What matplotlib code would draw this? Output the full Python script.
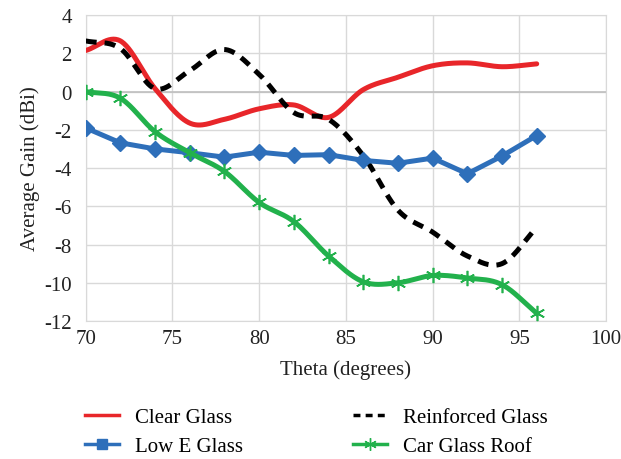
import numpy as np
import matplotlib.pyplot as plt
from matplotlib.lines import Line2D

plt.rcParams['font.family'] = ['Liberation Serif', 'DejaVu Serif']
plt.rcParams['axes.unicode_minus'] = False

theta = [70, 72, 74, 76, 78, 80, 82, 84, 86, 88, 90, 92, 94, 96]

clear_glass = [2.15, 2.65, 0.15, -1.65, -1.45, -0.9, -0.7, -1.35, 0.1, 0.75, 1.35, 1.5, 1.3, 1.45]
reinforced_glass = [2.65, 2.25, 0.15, 1.1, 2.2, 0.9, -1.1, -1.45, -3.35, -6.2, -7.35, -8.6, -9.0, -7.1]
low_e_glass = [-1.9, -2.68, -3.0, -3.2, -3.43, -3.17, -3.34, -3.3, -3.6, -3.75, -3.48, -4.3, -3.37, -2.3]
car_glass_roof = [0.0, -0.35, -2.1, -3.2, -4.18, -5.8, -6.8, -8.6, -9.95, -10.0, -9.62, -9.75, -10.1, -11.6]


def smooth_xy(x, y, n=30):
    # catmull-rom style curve through the points, like excel's smoothed line
    x = np.asarray(x, float)
    y = np.asarray(y, float)
    px = np.concatenate([[2 * x[0] - x[1]], x, [2 * x[-1] - x[-2]]])
    py = np.concatenate([[2 * y[0] - y[1]], y, [2 * y[-1] - y[-2]]])
    xs, ys = [], []
    t = np.linspace(0, 1, n, endpoint=False)
    for i in range(1, len(px) - 2):
        p0, p1, p2, p3 = [np.array([px[j], py[j]]) for j in range(i - 1, i + 3)]
        c1 = p1 + (p2 - p0) / 6
        c2 = p2 - (p3 - p1) / 6
        b = ((1 - t) ** 3)[:, None] * p1 + (3 * (1 - t) ** 2 * t)[:, None] * c1 \
            + (3 * (1 - t) * t ** 2)[:, None] * c2 + (t ** 3)[:, None] * p2
        xs.append(b[:, 0])
        ys.append(b[:, 1])
    xs.append([x[-1]])
    ys.append([y[-1]])
    return np.concatenate(xs), np.concatenate(ys)


fig = plt.figure(figsize=(6.21, 4.60), dpi=100)
ax = fig.add_axes([0.138, 0.30, 0.838, 0.665])

red = "#e8262a"
blue = "#2e6fba"
green = "#22b14c"

sx, sy = smooth_xy(theta, clear_glass)
ax.plot(sx, sy, color=red, lw=3.6, solid_capstyle="round", zorder=3)

sx, sy = smooth_xy(theta, reinforced_glass)
ax.plot(sx, sy, color="black", lw=3.6, dashes=(2.2, 1.6), zorder=4)

ax.plot(theta, low_e_glass, color=blue, lw=3.6, marker="D", markersize=8.5, zorder=5)

sx, sy = smooth_xy(theta, car_glass_roof)
ax.plot(sx, sy, color=green, lw=3.6, zorder=6)
ax.plot(theta, car_glass_roof, ls="none", marker=(6, 2, 0), markersize=11,
        markeredgewidth=1.2, color=green, zorder=6)

ax.set_xlim(70, 100)
ax.set_ylim(-12, 4)
ax.set_xticks(np.arange(70, 101, 5))
ax.set_yticks(np.arange(-12, 5, 2))
ax.grid(True, color="#d9d9d9", lw=1)
ax.axhline(0, color="#bfbfbf", lw=1.2, zorder=1)
ax.set_axisbelow(True)
for s in ax.spines.values():
    s.set_color("#d9d9d9")
ax.tick_params(length=0, labelsize=15, colors="#222222")
ax.tick_params(axis="y", pad=10)
ax.tick_params(axis="x", pad=6)

ax.set_xlabel("Theta (degrees)", fontsize=15, color="#222222", labelpad=8)
ax.set_ylabel("Average Gain (dBi)", fontsize=15, color="#222222", labelpad=3)

handles = [
    Line2D([], [], color=red, lw=2.5),
    Line2D([], [], color=blue, lw=2.5, marker="s", markersize=7),
    Line2D([], [], color="black", lw=2.5, dashes=(2, 1.5)),
    Line2D([], [], color=green, lw=2.5, marker=(6, 2, 0), markersize=9, markeredgewidth=1),
]
labels = ["Clear Glass", "Low E Glass", "Reinforced Glass", "Car Glass Roof"]
fig.legend(handles, labels, loc="lower left", bbox_to_anchor=(0.106, -0.035), ncol=2,
           frameon=False, fontsize=15, handlelength=1.65, columnspacing=5.3,
           labelspacing=0.45, handletextpad=0.75)

fig.savefig("out.png", dpi=100)
